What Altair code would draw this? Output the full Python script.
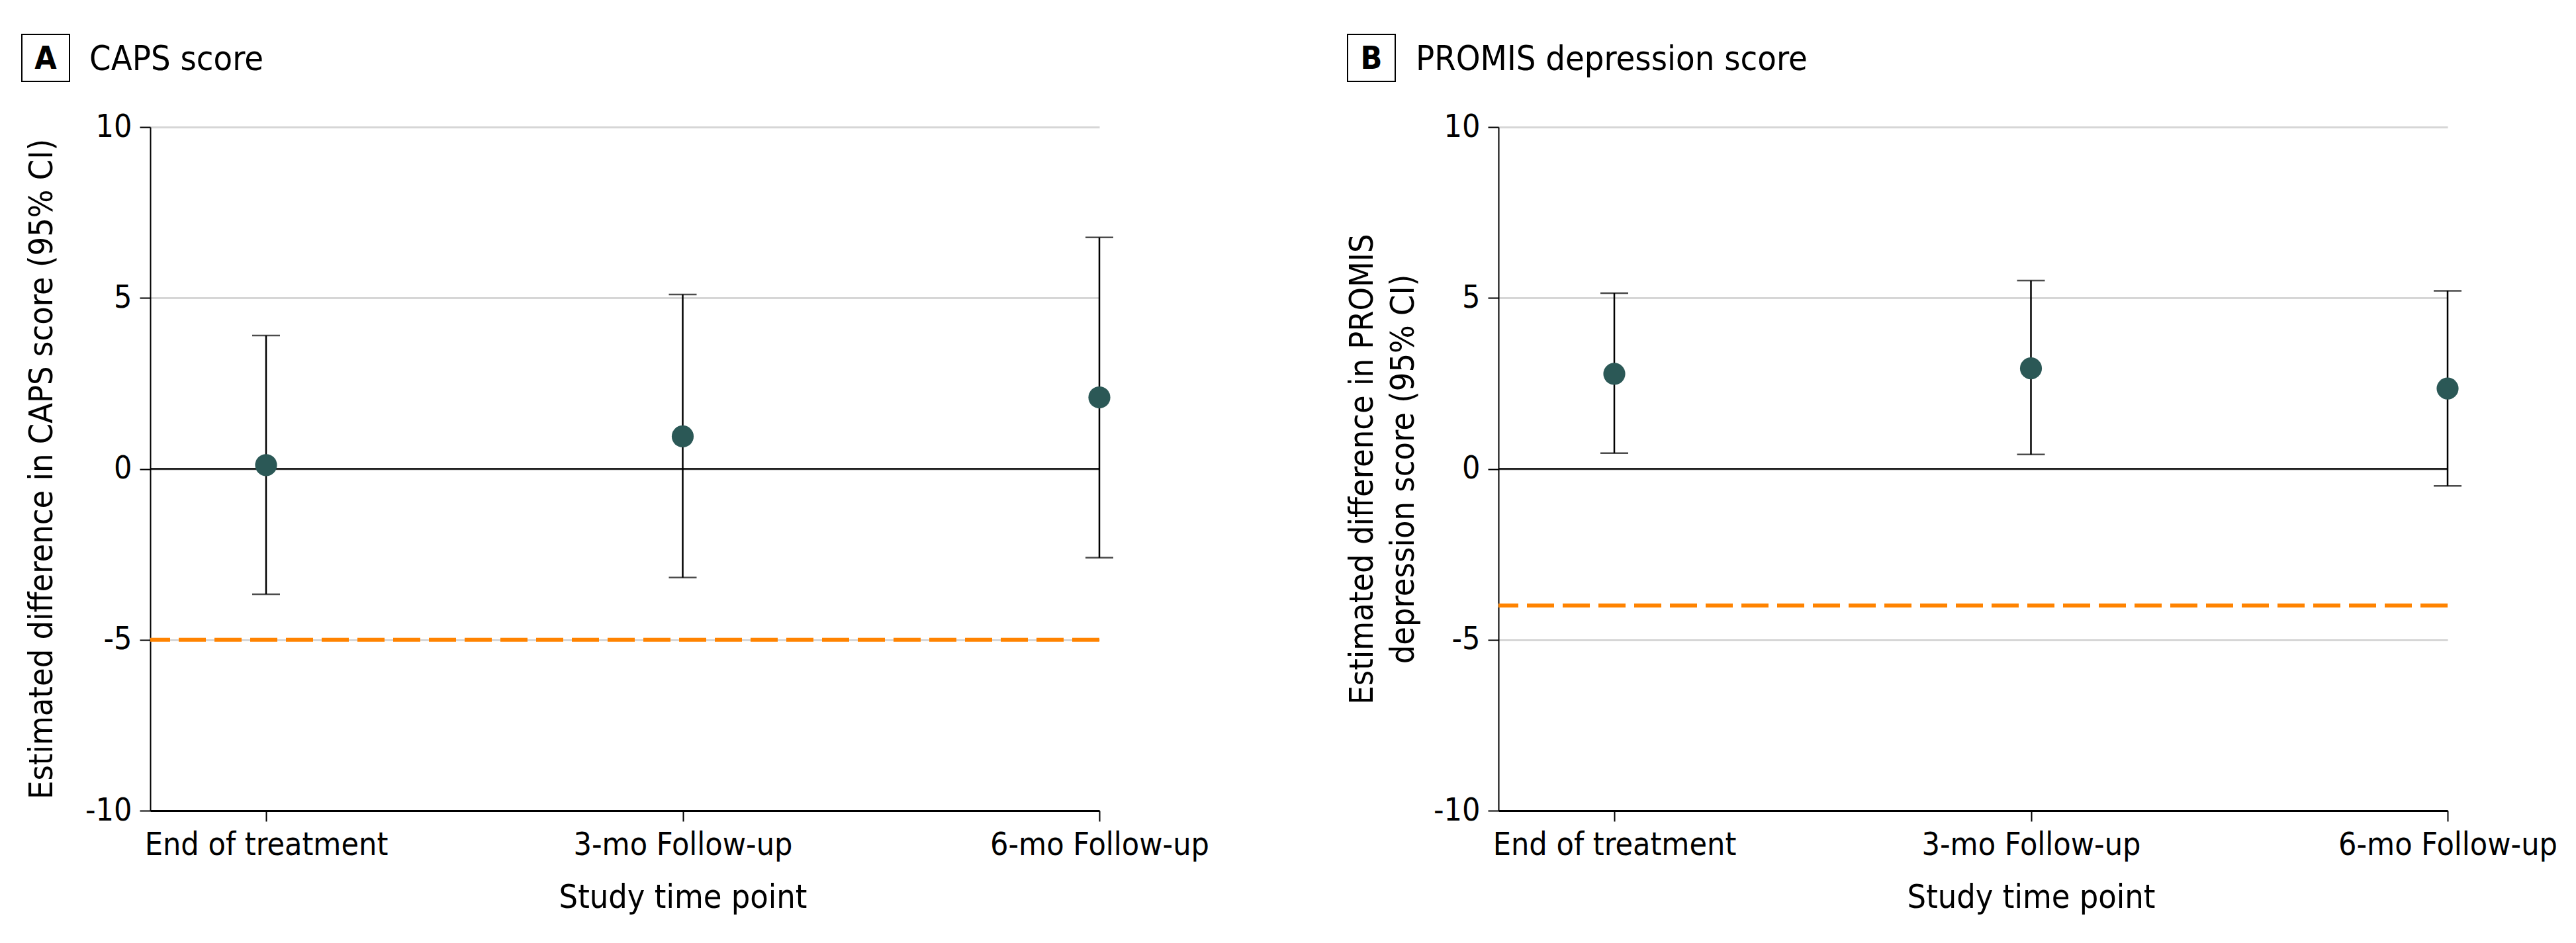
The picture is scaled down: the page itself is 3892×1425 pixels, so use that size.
import altair as alt
import pandas as pd

categories = ["End of treatment", "3-mo Follow-up", "6-mo Follow-up"]
positions = [0, 1, 2]

caps_est = [0.11, 0.95, 2.09]
caps_lo = [-3.67, -3.18, -2.60]
caps_hi = [3.90, 5.10, 6.77]
caps_threshold = [-5]

promis_est = [2.78, 2.94, 2.35]
promis_lo = [0.46, 0.42, -0.50]
promis_hi = [5.14, 5.51, 5.21]
promis_threshold = [-4]

y_ticks = [-10, -5, 0, 5, 10]

FONT = "DejaVu Sans Condensed"
W, H = 1434, 1033
label_expr = "[" + ",".join("'%s'" % c for c in categories) + "][datum.value]"


def panel(est, lo, hi, thr, ytitle, letter, title, box_x, text_x, ytitle_pad):
    df = pd.DataFrame({"pos": positions, "cat": categories, "est": est, "lo": lo, "hi": hi})
    xenc = alt.X("pos:Q",
                 scale=alt.Scale(domain=[-0.278, 2], nice=False, zero=False),
                 axis=alt.Axis(values=positions, labelExpr=label_expr, title="Study time point",
                               titleX=W * (1 + 0.278) / 2.278, grid=False,
                               tickSize=16, tickWidth=2, tickColor="black",
                               domainColor="black", domainWidth=3,
                               labelFont=FONT, labelFontSize=48, labelColor="black",
                               labelLimit=2000, labelOverlap=False, labelFlush=False,
                               labelPadding=12, titleFont=FONT, titleFontSize=50,
                               titleFontWeight="normal", titleColor="black", titlePadding=30))
    yscale = alt.Scale(domain=[-10, 10], nice=False)
    yenc_axis = alt.Axis(values=y_ticks, labelExpr="datum.value + ''", title=ytitle,
                         grid=True, gridColor="#d6d6d6", gridWidth=3,
                         tickSize=16, tickWidth=2, tickColor="black",
                         domainColor="black", domainWidth=2,
                         labelFont=FONT, labelFontSize=48, labelColor="black", labelPadding=12,
                         titleFont=FONT, titleFontSize=50, titleFontWeight="normal",
                         titleColor="black", titlePadding=ytitle_pad, titleLineHeight=62)
    base = alt.Chart(df)
    bars = base.mark_rule(color="black", strokeWidth=2.5).encode(
        x=xenc, y=alt.Y("lo:Q", scale=yscale, axis=yenc_axis), y2="hi:Q")
    cap_lo = base.mark_tick(orient="horizontal", color="black", size=42, thickness=2.5).encode(
        x="pos:Q", y="lo:Q")
    cap_hi = base.mark_tick(orient="horizontal", color="black", size=42, thickness=2.5).encode(
        x="pos:Q", y="hi:Q")
    zero = alt.Chart(pd.DataFrame({"z": [0]})).mark_rule(color="black", strokeWidth=2.5).encode(
        y="z:Q")
    thr_line = alt.Chart(pd.DataFrame({"t": thr})).mark_rule(
        color="#ff8300", strokeWidth=6, strokeDash=[41, 13]).encode(y="t:Q")
    pts = base.mark_circle(size=1100, color="#2b5856", opacity=1).encode(x="pos:Q", y="est:Q")
    ttl = pd.DataFrame({"letter": [letter], "title": [title]})
    box = alt.Chart(ttl).mark_rect(fillOpacity=0, stroke="black", strokeWidth=2).encode(
        x=alt.value(box_x), x2=alt.value(box_x + 72), y=alt.value(-140), y2=alt.value(-69))
    let = alt.Chart(ttl).mark_text(font=FONT, fontSize=48, fontWeight="bold", color="black",
                                   align="center", baseline="alphabetic").encode(
        text="letter:N", x=alt.value(box_x + 36), y=alt.value(-88))
    tt = alt.Chart(ttl).mark_text(font=FONT, fontSize=52, color="black",
                                  align="left", baseline="alphabetic").encode(
        text="title:N", x=alt.value(text_x), y=alt.value(-86))
    return alt.layer(bars, zero, thr_line, cap_lo, cap_hi, pts, box, let, tt).properties(
        width=W, height=H)


a = panel(caps_est, caps_lo, caps_hi, caps_threshold,
          "Estimated difference in CAPS score (95% CI)", "A", "CAPS score", -194, -92, 40)
b = panel(promis_est, promis_lo, promis_hi, promis_threshold,
          ["Estimated difference in PROMIS", "depression score (95% CI)"], "B",
          "PROMIS depression score", -228, -125, 20)

chart = alt.hconcat(a, b, spacing=603, bounds="flush").properties(
    padding={"left": 24, "top": 43, "right": 5, "bottom": 5},
    background="white",
).configure_view(stroke="transparent", strokeWidth=0).configure_axisX(grid=False)

chart.save("out.html", embed_options={"renderer": "svg", "actions": False})
